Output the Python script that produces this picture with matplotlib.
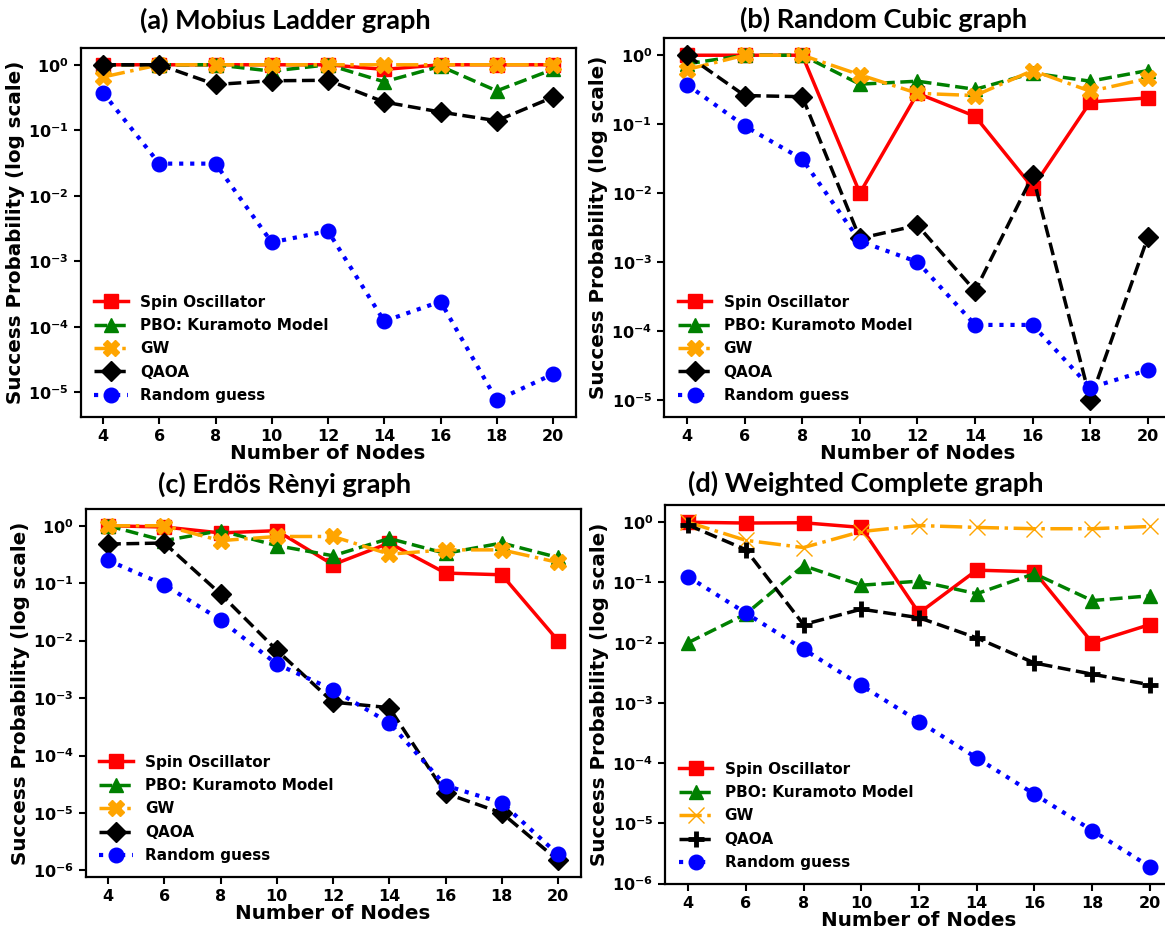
import matplotlib
matplotlib.use('Agg')
import matplotlib.pyplot as plt
import numpy as np
from matplotlib.ticker import NullLocator

# Graph sizes
nodes = [4, 6, 8, 10, 12, 14, 16, 18, 20]

# (a) Mobius Ladder graph
mobius_spin = [1.0, 1.0, 1.0, 1.0, 1.0, 0.85, 1.0, 1.0, 1.0]
mobius_pbo = [1.0, 1.0, 1.0, 0.8, 1.0, 0.55, 0.95, 0.4, 0.85]
mobius_gw = [0.65, 1.0, 1.0, 1.0, 1.0, 1.0, 1.0, 1.0, 1.0]
mobius_qaoa = [1.0, 1.0, 0.5, 0.57, 0.58, 0.27, 0.19, 0.14, 0.32]
mobius_random = [0.375, 0.031, 0.031, 0.00195, 0.0029, 1.22e-4, 2.44e-4, 7.6e-6, 1.9e-5]

# (b) Random Cubic graph
cubic_spin = [1.0, 1.0, 1.0, 0.01, 0.28, 0.13, 0.012, 0.21, 0.24]
cubic_pbo = [0.75, 1.0, 1.0, 0.38, 0.42, 0.32, 0.55, 0.42, 0.6]
cubic_gw = [0.62, 1.0, 1.0, 0.52, 0.28, 0.26, 0.6, 0.3, 0.46]
cubic_qaoa = [1.0, 0.26, 0.25, 0.0022, 0.0034, 0.00038, 0.018, 1.0e-5, 0.0023]
cubic_random = [0.375, 0.094, 0.031, 0.002, 0.001, 1.22e-4, 1.22e-4, 1.5e-5, 2.7e-5]

# (c) Erdos Renyi graph
er_spin = [1.0, 0.95, 0.75, 0.82, 0.21, 0.5, 0.15, 0.14, 0.01]
er_pbo = [1.0, 0.55, 0.82, 0.45, 0.3, 0.6, 0.33, 0.5, 0.28]
er_gw = [1.0, 1.0, 0.55, 0.65, 0.65, 0.32, 0.38, 0.38, 0.23]
er_qaoa = [0.48, 0.5, 0.065, 0.0068, 0.00085, 0.00068, 2.2e-5, 1.0e-5, 1.5e-6]
er_random = [0.25, 0.094, 0.023, 0.0039, 0.0014, 0.00037, 3.0e-5, 1.5e-5, 1.9e-6]

# (d) Weighted Complete graph
wc_spin = [1.0, 0.97, 0.98, 0.82, 0.031, 0.16, 0.15, 0.01, 0.02]
wc_pbo = [0.01, 0.03, 0.19, 0.09, 0.105, 0.065, 0.14, 0.05, 0.06]
wc_gw = [1.0, 0.5, 0.38, 0.7, 0.88, 0.82, 0.78, 0.78, 0.85]
wc_qaoa = [0.9, 0.35, 0.02, 0.036, 0.026, 0.012, 0.0046, 0.003, 0.002]
wc_random = [0.125, 0.031, 0.0078, 0.00195, 0.00049, 1.22e-4, 3.05e-5, 7.6e-6, 1.9e-6]

labels = ['Spin Oscillator', 'PBO: Kuramoto Model', 'GW', 'QAOA', 'Random guess']

W, H = 1165, 930
fig = plt.figure(figsize=(W / 100, H / 100), dpi=100)


def box(left, right, top, bottom):
    # pixel edges -> figure fraction rectangle
    return [left / W, 1 - bottom / H, (right - left) / W, (bottom - top) / H]


def panel(rect, series, title, title_xy, weighted=False):
    ax = fig.add_axes(rect)
    spin, pbo, gw, qaoa, rnd = series
    lw = 2.5
    ax.plot(nodes, spin, color='red', linestyle='-', marker='s', markersize=10,
            linewidth=lw, label=labels[0])
    ax.plot(nodes, pbo, color='green', linestyle='--', marker='^', markersize=10.5,
            linewidth=lw, label=labels[1])
    if weighted:
        ax.plot(nodes, gw, color='orange', linestyle='-.', marker='x', markersize=12,
                markeredgewidth=1, linewidth=lw, label=labels[2])
        ax.plot(nodes, qaoa, color='black', linestyle='--', marker='+', markersize=12,
                markeredgewidth=3.5, linewidth=lw, label=labels[3])
    else:
        ax.plot(nodes, gw, color='orange', linestyle='-.', marker='X', markersize=11,
                linewidth=lw, label=labels[2])
        ax.plot(nodes, qaoa, color='black', linestyle='--', marker='D', markersize=10,
                linewidth=lw, label=labels[3])
    ax.plot(nodes, rnd, color='blue', linestyle=':', marker='o', markersize=10.5,
            linewidth=lw + 0.5, label=labels[4])
    ax.set_yscale('log')
    # decade ticks only inside the autoscaled range
    lo, hi = ax.get_ylim()
    decades = [10.0 ** k for k in range(int(np.ceil(np.log10(lo))), int(np.floor(np.log10(hi))) + 1)]
    ax.set_yticks(decades)
    ax.set_ylim(lo, hi)
    ax.yaxis.set_minor_locator(NullLocator())
    ax.set_xticks(nodes)
    ax.tick_params(axis='both', labelsize=11.5, width=1.5, length=5)
    for t in ax.get_xticklabels() + ax.get_yticklabels():
        t.set_fontweight('bold')
    for s in ax.spines.values():
        s.set_linewidth(1.6)
    ax.set_xlabel('Number of Nodes', fontsize=14.3, fontweight='bold', labelpad=0)
    ax.set_ylabel('Success Probability (log scale)', fontsize=14.3, fontweight='bold',
                  labelpad=2)
    ax.legend(loc='lower left', frameon=False, prop={'weight': 'bold', 'size': 11},
              handlelength=2.2, labelspacing=0.55)
    fig.text(title_xy[0] / W, 1 - title_xy[1] / H, title, ha='center', va='center',
             fontsize=19.5, fontweight='bold', family='Lato')
    return ax


panel(box(80.5, 575.5, 48, 417), [mobius_spin, mobius_pbo, mobius_gw, mobius_qaoa, mobius_random],
      '(a) Mobius Ladder graph', (285, 20))
panel(box(664, 1171, 38, 417), [cubic_spin, cubic_pbo, cubic_gw, cubic_qaoa, cubic_random],
      '(b) Random Cubic graph', (884, 19))
panel(box(85.5, 580.5, 509, 877), [er_spin, er_pbo, er_gw, er_qaoa, er_random],
      '(c) Erdös Rènyi graph', (285, 484))
panel(box(665, 1173, 505, 884), [wc_spin, wc_pbo, wc_gw, wc_qaoa, wc_random],
      '(d) Weighted Complete graph', (866, 483), weighted=True)

fig.savefig('out.png', dpi=100)
